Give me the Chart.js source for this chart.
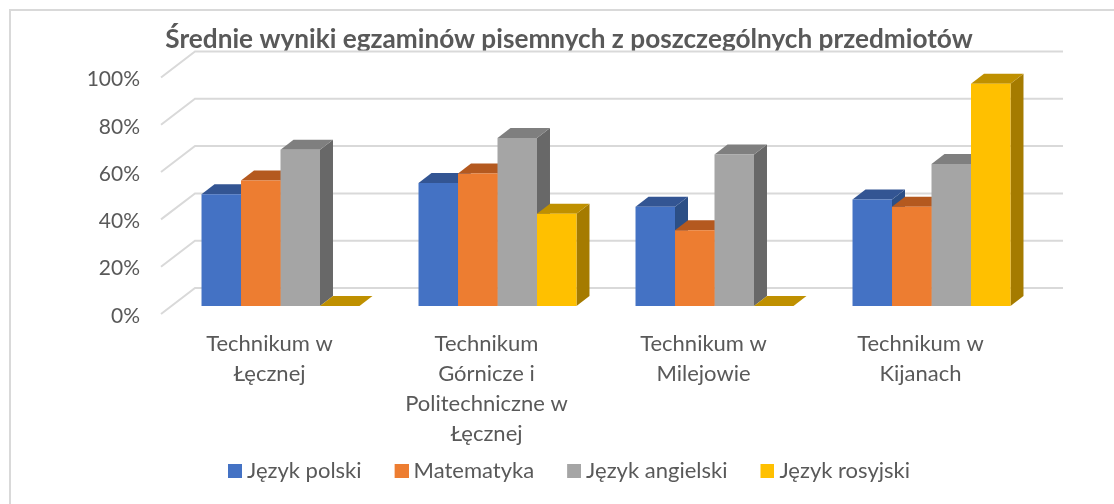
<!DOCTYPE html>
<html><head><meta charset="utf-8">
<style>
html,body{margin:0;padding:0;background:#fff;overflow:hidden;width:1114px;height:504px}
#frame{position:absolute;left:9px;top:9px;width:1200px;height:600px;border:2px solid #d9d9d9;box-sizing:border-box}
canvas{position:absolute;left:0;top:0}
</style>
<script src="https://cdn.jsdelivr.net/npm/chart.js@4"></script>
</head><body>
<div id="frame"></div>
<canvas id="c" width="1114" height="492"></canvas>
<script>
const categories = [
  ["Technikum w","Łęcznej"],
  ["Technikum","Górnicze i","Politechniczne w","Łęcznej"],
  ["Technikum w","Milejowie"],
  ["Technikum w","Kijanach"]
];
const jezykPolski    = [47.2, 52, 42, 45];
const matematyka     = [53, 56, 32, 42];
const jezykAngielski = [66, 71, 64, 60];
const jezykRosyjski  = [0, 39, 0, 94];
const seriesNames = ["Język polski","Matematyka","Język angielski","Język rosyjski"];
const frontColors = ["#4472c4","#ed7d31","#a5a5a5","#ffc000"];
const topColors   = ["#335593","#b4591f","#7f7f7f","#bf9000"];
const sideColors  = ["#2c4f86","#9c4e1b","#686868","#a57b00"];
const BAR_DX=13, BAR_DY=-10, BACK_DX=23, BACK_DY=-18, FRONT_DX=-11, FRONT_DY=8, TICK_DY=10;

const poly=(ctx,pts,fill)=>{ctx.beginPath();pts.forEach((p,i)=>i?ctx.lineTo(p[0],p[1]):ctx.moveTo(p[0],p[1]));ctx.closePath();ctx.fillStyle=fill;ctx.fill();};

const swatches=frontColors.map(col=>{
  const s=document.createElement('canvas');s.width=20;s.height=14;
  const g=s.getContext('2d');g.fillStyle=col;g.fillRect(6,0,14,14);return s;
});

const depthPlugin={
  id:'depth',
  afterLayout(chart){
    chart.scales.x.bottom=chart.height;
    chart.scales.y.left=0;
  },
  beforeDatasetsDraw(chart){
    const {ctx,chartArea:a,scales:{y}}=chart;
    ctx.save();ctx.strokeStyle='#d9d9d9';ctx.lineWidth=2;
    y.ticks.forEach(t=>{
      const py=y.getPixelForValue(t.value);
      ctx.beginPath();
      ctx.moveTo(a.left+FRONT_DX,py+FRONT_DY);
      ctx.lineTo(a.left+BACK_DX,py+BACK_DY);
      ctx.lineTo(a.right+BACK_DX,py+BACK_DY);
      ctx.stroke();
    });
    ctx.restore();
    chart.data.datasets.forEach((d,i)=>{
      chart.getDatasetMeta(i).data.forEach(b=>{
        const l=b.x-b.width/2,r=b.x+b.width/2,t=b.y,bs=b.base;
        poly(ctx,[[r,t],[r+BAR_DX,t+BAR_DY],[r+BAR_DX,bs+BAR_DY],[r,bs]],sideColors[i]);
        poly(ctx,[[l,t],[l+BAR_DX,t+BAR_DY],[r+BAR_DX,t+BAR_DY],[r,t]],topColors[i]);
      });
    });
  }
};

const values=[jezykPolski,matematyka,jezykAngielski,jezykRosyjski];
const textColor='#595959', family='Lato, Carlito, sans-serif';
new Chart(document.getElementById('c'),{
  type:'bar',
  data:{labels:categories,datasets:values.map((v,i)=>({
    label:seriesNames[i],data:v,backgroundColor:frontColors[i],borderWidth:0,
    categoryPercentage:0.728,barPercentage:1
  }))},
  plugins:[depthPlugin],
  options:{
    responsive:false,animation:false,
    layout:{padding:{left:98,right:74,top:24,bottom:0}},
    plugins:{
      title:{display:true,text:'Średnie wyniki egzaminów pisemnych z poszczególnych przedmiotów',
        color:textColor,font:{family,size:26.2,weight:'bold',lineHeight:1.2},padding:{top:0,bottom:14}},
      legend:{position:'bottom',labels:{color:textColor,font:{family,size:22},usePointStyle:true,pointStyleWidth:8,padding:33,
        generateLabels(chart){
          return Chart.defaults.plugins.legend.labels.generateLabels(chart).map((l,i)=>({...l,pointStyle:swatches[i]}));
        }}},
      tooltip:{enabled:false}
    },
    scales:{
      x:{grid:{display:false},border:{display:false},
        ticks:{color:textColor,font:{family,size:22,lineHeight:1.364},padding:15,labelOffset:FRONT_DX,maxRotation:0,autoSkip:false},
        afterFit(s){s.height=121;}},
      y:{min:0,max:100,grid:{display:false,drawTicks:false},border:{display:false},
        ticks:{stepSize:20,color:textColor,font:{family,size:21},padding:32,labelOffset:TICK_DY,callback:v=>v+'%'},
        afterFit(s){s.width=74;}}
    }
  }
});
</script>
</body></html>
